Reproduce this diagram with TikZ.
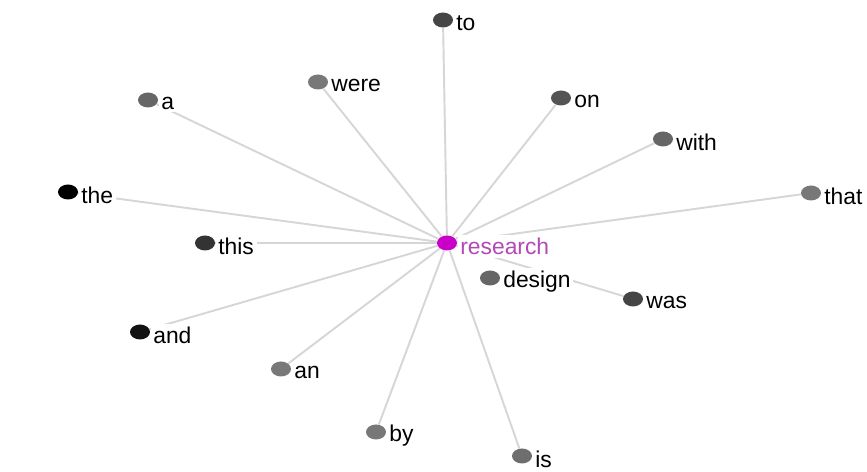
\documentclass[tikz,border=0pt]{standalone}
\usepackage{fontspec}
\setmainfont{Liberation Sans}
\usepackage{tikz}
\usepackage{xcolor}
\usetikzlibrary{positioning, shapes.geometric, backgrounds}
\definecolor{hubmagenta}{HTML}{C800C8}
\definecolor{hubtext}{HTML}{B448B4}
\definecolor{linkgray}{HTML}{D6D6D6}

\begin{document}
\begin{tikzpicture}[x=0.02cm, y=-0.02cm,
  every node/.style={font=\fontsize{13}{15}\selectfont},
  word/.style={ellipse, minimum width=0.4cm, minimum height=0.3cm, inner sep=0pt},
  lbl/.style={fill=white, inner sep=1.5pt, yshift=-2pt},
  link/.style={draw=linkgray, line width=1.1pt}]
  \useasboundingbox (0,0) rectangle (867,472);

  \node[word, fill=hubmagenta] (research) at (447,243) {};
  \node[word, fill=black!73] (to) at (443,20) {};
  \node[word, fill=black!53] (were) at (318,82) {};
  \node[word, fill=black!60] (a) at (148,100) {};
  \node[word, fill=black!67] (on) at (561,98) {};
  \node[word, fill=black!60] (with) at (663,139) {};
  \node[word, fill=black!53] (that) at (811,193) {};
  \node[word, fill=black] (the) at (68,192) {};
  \node[word, fill=black!80] (this) at (205,243) {};
  \node[word, fill=black!60] (design) at (490,278) {};
  \node[word, fill=black!73] (was) at (633,299) {};
  \node[word, fill=black!93] (and) at (140,332) {};
  \node[word, fill=black!53] (an) at (281,369) {};
  \node[word, fill=black!53] (by) at (376,432) {};
  \node[word, fill=black!57] (is) at (522,456) {};

  \node[lbl, right=0pt, text=hubtext] (researchl) at (research.east) {research};
  \node[lbl, right=0pt] (tol) at (to.east) {to};
  \node[lbl, right=0pt] (werel) at (were.east) {were};
  \node[lbl, right=0pt] (al) at (a.east) {a};
  \node[lbl, right=0pt] (onl) at (on.east) {on};
  \node[lbl, right=0pt] (withl) at (with.east) {with};
  \node[lbl, right=0pt] (thatl) at (that.east) {that};
  \node[lbl, right=0pt] (thel) at (the.east) {the};
  \node[lbl, right=0pt] (thisl) at (this.east) {this};
  \node[lbl, right=0pt] (designl) at (design.east) {design};
  \node[lbl, right=0pt] (wasl) at (was.east) {was};
  \node[lbl, right=0pt] (andl) at (and.east) {and};
  \node[lbl, right=0pt] (anl) at (an.east) {an};
  \node[lbl, right=0pt] (byl) at (by.east) {by};
  \node[lbl, right=0pt] (isl) at (is.east) {is};

  \begin{scope}[on background layer]
    \draw[link] (research) -- (to);
    \draw[link] (research) -- (were);
    \draw[link] (research) -- (a);
    \draw[link] (research) -- (on);
    \draw[link] (research) -- (with);
    \draw[link] (research) -- (that);
    \draw[link] (research) -- (the);
    \draw[link] (research) -- (this);
    \draw[link] (research) -- (was);
    \draw[link] (research) -- (and);
    \draw[link] (research) -- (an);
    \draw[link] (research) -- (by);
    \draw[link] (research) -- (is);
  \end{scope}
\end{tikzpicture}
\end{document}
